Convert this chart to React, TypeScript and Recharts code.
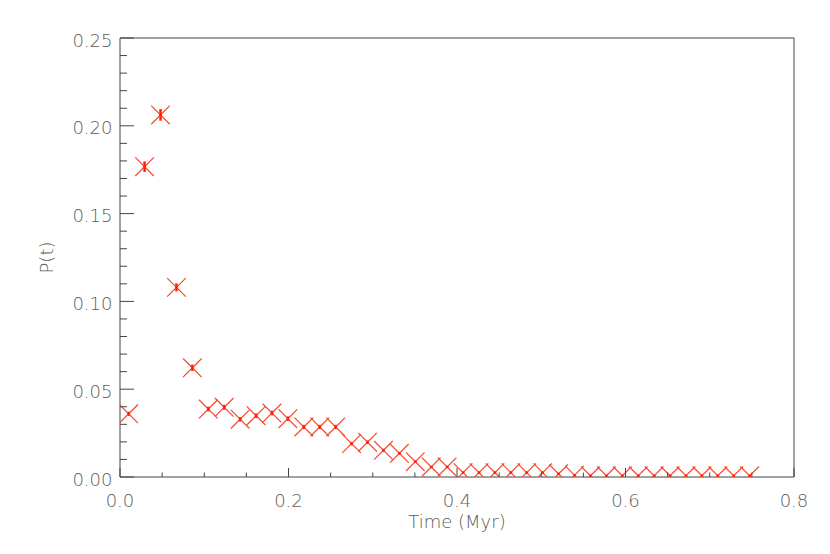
import React from 'react';
import { ScatterChart, Scatter, XAxis, YAxis, ErrorBar } from 'recharts';

// bin centres (Myr)
const timeMyr = [
  0.0103, 0.0292, 0.0481, 0.0670, 0.0859, 0.1048, 0.1237, 0.1426, 0.1615, 0.1804,
  0.1993, 0.2182, 0.2371, 0.2560, 0.2749, 0.2938, 0.3127, 0.3316, 0.3505, 0.3694,
  0.3883, 0.4072, 0.4261, 0.4450, 0.4639, 0.4828, 0.5017, 0.5206, 0.5395, 0.5584,
  0.5773, 0.5962, 0.6151, 0.6340, 0.6529, 0.6718, 0.6907, 0.7096, 0.7285, 0.7474,
];

const prob = [
  0.0360, 0.1767, 0.2062, 0.1080, 0.0622, 0.0387, 0.0397, 0.0329, 0.0349, 0.0364,
  0.0332, 0.0285, 0.0285, 0.0285, 0.0190, 0.0198, 0.0152, 0.0135, 0.0087, 0.0057,
  0.0057, 0.0025, 0.0025, 0.0025, 0.0025, 0.0025, 0.0025, 0.0018, 0.0010, 0.0007,
  0.0007, 0.0007, 0.0007, 0.0007, 0.0007, 0.0007, 0.0007, 0.0007, 0.0007, 0.0007,
];

const probErr = [
  0.0012, 0.0030, 0.0033, 0.0023, 0.0018, 0.0013, 0.0014, 0.0013, 0.0013, 0.0013,
  0.0013, 0.0012, 0.0012, 0.0012, 0.0010, 0.0010, 0.0009, 0.0008, 0.0007, 0.0005,
  0.0005, 0.0004, 0.0004, 0.0004, 0.0004, 0.0004, 0.0004, 0.0003, 0.0003, 0.0002,
  0.0002, 0.0002, 0.0002, 0.0002, 0.0002, 0.0002, 0.0002, 0.0002, 0.0002, 0.0002,
];

const xTicks = [
  0, 0.05, 0.1, 0.15, 0.2, 0.25, 0.3, 0.35, 0.4, 0.45, 0.5, 0.55, 0.6, 0.65, 0.7, 0.75, 0.8,
];
const xMajor = [0, 0.2, 0.4, 0.6, 0.8];

const yTicks = [
  0, 0.01, 0.02, 0.03, 0.04, 0.05, 0.06, 0.07, 0.08, 0.09, 0.1, 0.11, 0.12,
  0.13, 0.14, 0.15, 0.16, 0.17, 0.18, 0.19, 0.2, 0.21, 0.22, 0.23, 0.24, 0.25,
];
const yMajor = [0, 0.05, 0.1, 0.15, 0.2, 0.25];

const data = timeMyr.map((t, i) => ({ t, p: prob[i], err: probErr[i] }));

const RED = '#f5482e';
const BAR_RED = '#ff1f05';
const AXIS = '#444';
const TEXT = '#5c5c5c';
const FONT = '"DejaVu Sans", sans-serif';

const isMajor = (list: number[], v: number) => list.some(m => Math.abs(m - v) < 1e-9);

// ticks point inward, like the IDL style plot
const BottomTick = ({ x, y, payload }: any) => {
  const major = isMajor(xMajor, payload.value);
  return (
    <g>
      <line x1={x} y1={y} x2={x} y2={y - (major ? 9 : 4.5)} stroke={AXIS} />
      {major && (
        <text x={x} y={y + 30} textAnchor="middle" fontSize={18} fontWeight={300} fill={TEXT} fontFamily={FONT}>
          {payload.value.toFixed(1)}
        </text>
      )}
    </g>
  );
};

const TopTick = ({ x, y, payload }: any) => {
  const major = isMajor(xMajor, payload.value);
  return <line x1={x} y1={y} x2={x} y2={y + (major ? 9 : 4.5)} stroke={AXIS} />;
};

const LeftTick = ({ x, y, payload }: any) => {
  const major = isMajor(yMajor, payload.value);
  return (
    <g>
      <line x1={x} y1={y} x2={x + (major ? 14 : 7)} y2={y} stroke={AXIS} />
      {major && (
        <text x={x - 7.5} y={y + 8.5} textAnchor="end" fontSize={18} fontWeight={300} fill={TEXT} fontFamily={FONT}>
          {payload.value.toFixed(2)}
        </text>
      )}
    </g>
  );
};

const RightTick = ({ x, y, payload }: any) => {
  const major = isMajor(yMajor, payload.value);
  return <line x1={x} y1={y} x2={x - (major ? 14 : 7)} y2={y} stroke={AXIS} />;
};

const CrossMark = (props: any) => {
  const { cx, cy } = props;
  const s = 9.3;
  return (
    <g>
      <path
        d={`M${cx - s},${cy - s}L${cx + s},${cy + s}M${cx - s},${cy + s}L${cx + s},${cy - s}`}
        stroke={RED}
        strokeWidth={1.2}
        fill="none"
      />
      <rect x={cx - 1.2} y={cy - 1.2} width={2.4} height={2.4} fill={BAR_RED} />
    </g>
  );
};

export default function App() {
  return (
    <div style={{ position: 'absolute', left: 0, top: 0, width: 830, height: 554, background: '#fff' }}>
      <ScatterChart width={830} height={554} margin={{ top: 37, right: 35, bottom: 76, left: 119 }}>
        <XAxis
          type="number"
          dataKey="t"
          domain={[0, 0.8]}
          ticks={xTicks}
          interval={0}
          allowDataOverflow
          height={1}
          tickSize={0}
          tickMargin={0}
          tickLine={false}
          tick={<BottomTick />}
          axisLine={{ stroke: AXIS }}
          label={{ value: 'Time (Myr)', position: 'bottom', offset: 37, fill: TEXT, fontSize: 18, fontWeight: 300, fontFamily: FONT }}
        />
        <XAxis
          xAxisId="top"
          orientation="top"
          type="number"
          domain={[0, 0.8]}
          ticks={xTicks}
          interval={0}
          height={1}
          tickSize={0}
          tickMargin={0}
          tickLine={false}
          tick={<TopTick />}
          axisLine={{ stroke: AXIS }}
        />
        <YAxis
          type="number"
          dataKey="p"
          domain={[0, 0.25]}
          ticks={yTicks}
          interval={0}
          allowDataOverflow
          width={1}
          tickSize={0}
          tickMargin={0}
          tickLine={false}
          tick={<LeftTick />}
          axisLine={{ stroke: AXIS }}
          label={{
            value: 'P(t)',
            angle: -90,
            position: 'left',
            offset: 72,
            fill: TEXT,
            fontSize: 18,
            fontWeight: 300,
            fontFamily: FONT,
            style: { textAnchor: 'middle' },
          }}
        />
        <YAxis
          yAxisId="right"
          orientation="right"
          type="number"
          domain={[0, 0.25]}
          ticks={yTicks}
          interval={0}
          width={1}
          tickSize={0}
          tickMargin={0}
          tickLine={false}
          tick={<RightTick />}
          axisLine={{ stroke: AXIS }}
        />
        <Scatter data={data} dataKey="p" shape={<CrossMark />} isAnimationActive={false}>
          <ErrorBar dataKey="err" direction="y" width={0} stroke={BAR_RED} strokeWidth={2.5} isAnimationActive={false} />
        </Scatter>
      </ScatterChart>
    </div>
  );
}
